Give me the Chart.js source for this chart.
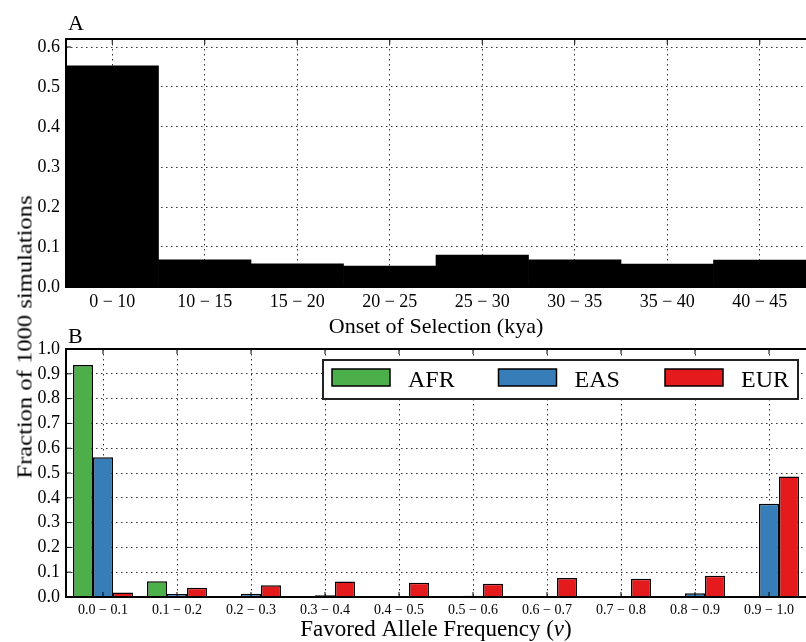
<!DOCTYPE html>
<html>
<head>
<meta charset="utf-8">
<script src="https://cdn.jsdelivr.net/npm/chart.js@4/dist/chart.umd.min.js"></script>
<style>
  body { margin: 0; background: #fff; }
  #wrap { position: relative; width: 806px; height: 642px; overflow: hidden; }
  .panel { position: absolute; left: 0; width: 806px; }
  #ylabel {
    position: absolute; left: 25px; top: 337px;
    transform: translate(-50%, -50%) rotate(-90deg) scaleX(1.17);
    font: 21px "Liberation Serif", serif; white-space: nowrap; line-height: 1;
  }
</style>
</head>
<body>
<div id="wrap">
  <div class="panel" style="top:0;height:340px"><canvas id="chartA"></canvas></div>
  <div class="panel" style="top:320px;height:322px"><canvas id="chartB"></canvas></div>
  <div id="ylabel">Fraction of 1000 simulations</div>
</div>
<script>
// panel A: onset of selection
const onsetLabels = ['0 − 10', '10 − 15', '15 − 20', '20 − 25', '25 − 30', '30 − 35', '35 − 40', '40 − 45'];
const onsetFractions = [0.553, 0.068, 0.058, 0.052, 0.080, 0.068, 0.057, 0.067];

// panel B: favored allele frequency
const freqLabels = ['0.0 − 0.1', '0.1 − 0.2', '0.2 − 0.3', '0.3 − 0.4', '0.4 − 0.5',
                    '0.5 − 0.6', '0.6 − 0.7', '0.7 − 0.8', '0.8 − 0.9', '0.9 − 1.0'];
const afrFractions = [0.935, 0.064, 0, 0, 0, 0, 0, 0, 0, 0];
const easFractions = [0.564, 0.012, 0.013, 0.007, 0.002, 0.005, 0.002, 0.004, 0.015, 0.376];
const eurFractions = [0.018, 0.037, 0.047, 0.062, 0.057, 0.053, 0.077, 0.074, 0.086, 0.486];

const serif = '"Liberation Serif", serif';
const dots = [1.5, 3.5];

// frame + inward ticks like the matplotlib classic style
const framePlugin = {
  id: 'frame',
  afterDatasetsDraw(chart) {
    const { ctx, chartArea: a, scales: { x, y } } = chart;
    ctx.save();
    ctx.strokeStyle = '#000';
    ctx.lineWidth = 1;
    ctx.beginPath();
    y.ticks.forEach((t, i) => {
      const py = y.getPixelForTick(i);
      ctx.moveTo(a.left, py); ctx.lineTo(a.left + 5, py);
    });
    x.ticks.forEach((t, i) => {
      const px = x.getPixelForTick(i);
      ctx.moveTo(px, a.bottom); ctx.lineTo(px, a.bottom - 5);
      ctx.moveTo(px, a.top); ctx.lineTo(px, a.top + 5);
    });
    ctx.stroke();
    ctx.lineWidth = 2;
    ctx.beginPath();
    ctx.moveTo(a.right + 2, a.top); ctx.lineTo(a.left, a.top);
    ctx.lineTo(a.left, a.bottom); ctx.lineTo(a.right + 2, a.bottom);
    ctx.stroke();
    ctx.restore();
  }
};

// panel letter (A / B) above the plot
const letterPlugin = {
  id: 'letter',
  afterDraw(chart, args, opts) {
    const { ctx, chartArea: a } = chart;
    ctx.save();
    ctx.font = '22px ' + serif;
    ctx.fillStyle = '#000';
    ctx.textBaseline = 'alphabetic';
    ctx.fillText(opts.text, a.left + 2, a.top - opts.gap);
    ctx.restore();
  }
};

// boxed legend inside the top right of panel B
const boxLegend = {
  id: 'boxLegend',
  afterDraw(chart) {
    const { ctx, chartArea: a } = chart;
    const right = a.right - 8, top = a.top + 11, w = 475, h = 39;
    const left = right - w;
    ctx.save();
    ctx.fillStyle = '#fff';
    ctx.fillRect(left, top, w, h);
    ctx.strokeStyle = '#222';
    ctx.lineWidth = 2;
    ctx.strokeRect(left, top, w, h);
    ctx.font = '24px ' + serif;
    ctx.textBaseline = 'middle';
    chart.data.datasets.forEach((ds, i) => {
      const sx = left + 9 + i * 166.5;
      ctx.fillStyle = ds.backgroundColor;
      ctx.fillRect(sx, top + 9, 58, 17);
      ctx.lineWidth = 1.5;
      ctx.strokeStyle = '#000';
      ctx.strokeRect(sx, top + 9, 58, 17);
      ctx.fillStyle = '#000';
      ctx.fillText(ds.label, sx + 76, top + h / 2 + 1);
    });
    ctx.restore();
  }
};

// x title of panel B with an italic nu
const nuTitle = {
  id: 'nuTitle',
  afterDraw(chart) {
    const { ctx, chartArea: a } = chart;
    const parts = [['Favored Allele Frequency (', ''], ['ν', 'italic '], [')', '']];
    const size = '23px ';
    ctx.save();
    let total = 0;
    parts.forEach(p => { ctx.font = p[1] + size + serif; total += ctx.measureText(p[0]).width; });
    let x = (a.left + a.right) / 2 - total / 2;
    ctx.fillStyle = '#000';
    ctx.textBaseline = 'middle';
    parts.forEach(p => {
      ctx.font = p[1] + size + serif;
      ctx.fillText(p[0], x, chart.height - 12);
      x += ctx.measureText(p[0]).width;
    });
    ctx.restore();
  }
};

function yScale(max, size) {
  return {
    min: 0, max: max,
    afterFit: s => { s.width = 66; },
    ticks: { stepSize: 0.1, includeBounds: false, padding: 6, color: '#000',
             font: { family: serif, size: size }, callback: v => v.toFixed(1) },
    grid: { color: '#333', drawTicks: false },
    border: { display: false, dash: dots }
  };
}

new Chart(document.getElementById('chartA'), {
  type: 'bar',
  data: {
    labels: onsetLabels,
    datasets: [{ data: onsetFractions, backgroundColor: '#000', borderWidth: 0,
                 barPercentage: 1, categoryPercentage: 1 }]
  },
  options: {
    responsive: true, maintainAspectRatio: false, animation: false,
    layout: { padding: { top: 39, left: 0, right: 0, bottom: 0 } },
    plugins: { legend: { display: false }, tooltip: { enabled: false }, letter: { text: 'A', gap: 9 } },
    scales: {
      x: {
        afterFit: s => { s.height = 53; },
        ticks: { padding: 4, color: '#000', maxRotation: 0, font: { family: serif, size: 18 } },
        grid: { offset: false, color: '#333', drawTicks: false },
        border: { display: false, dash: dots },
        title: { display: true, text: 'Onset of Selection (kya)', color: '#000',
                 font: { family: serif, size: 22 }, padding: { top: 0, bottom: 0 } }
      },
      y: yScale(0.62, 18)
    }
  },
  plugins: [framePlugin, letterPlugin]
});

new Chart(document.getElementById('chartB'), {
  type: 'bar',
  data: {
    labels: freqLabels,
    datasets: [
      { label: 'AFR', data: afrFractions, backgroundColor: '#4daf4a' },
      { label: 'EAS', data: easFractions, backgroundColor: '#377eb8' },
      { label: 'EUR', data: eurFractions, backgroundColor: '#e41a1c' }
    ]
  },
  options: {
    responsive: true, maintainAspectRatio: false, animation: false,
    datasets: { bar: { borderColor: '#000', borderWidth: 1.5, barPercentage: 1, categoryPercentage: 0.81 } },
    layout: { padding: { top: 29, left: 0, right: 0, bottom: 0 } },
    plugins: { legend: { display: false }, tooltip: { enabled: false }, letter: { text: 'B', gap: 6 } },
    scales: {
      x: {
        afterFit: s => { s.height = 45; },
        ticks: { padding: 5, color: '#000', maxRotation: 0, autoSkip: false, font: { family: serif, size: 14 } },
        grid: { offset: false, color: '#333', drawTicks: false },
        border: { display: false, dash: dots }
      },
      y: yScale(1.0, 18)
    }
  },
  plugins: [framePlugin, letterPlugin, boxLegend, nuTitle]
});
</script>
</body>
</html>
